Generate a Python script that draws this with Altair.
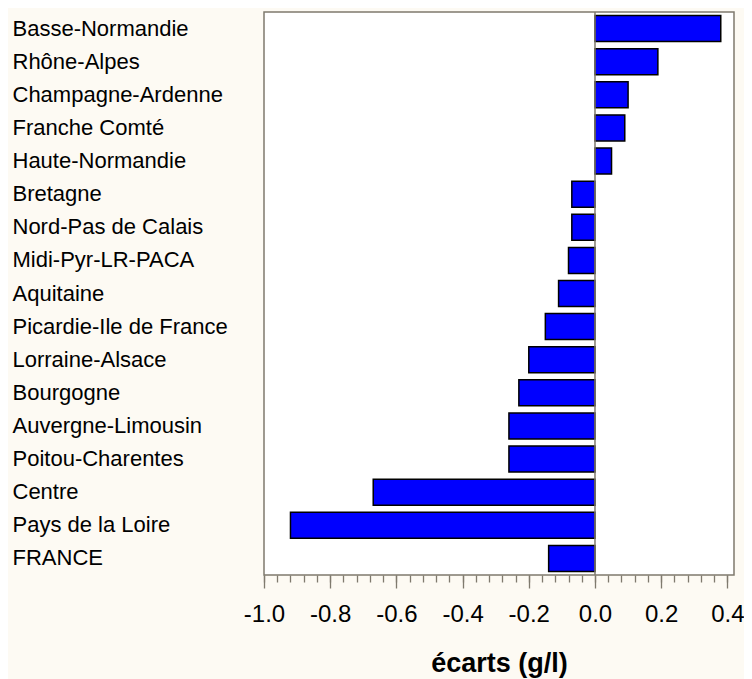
import altair as alt
import pandas as pd

regions = [
    "Basse-Normandie", "Rhône-Alpes", "Champagne-Ardenne", "Franche Comté",
    "Haute-Normandie", "Bretagne", "Nord-Pas de Calais", "Midi-Pyr-LR-PACA",
    "Aquitaine", "Picardie-Ile de France", "Lorraine-Alsace", "Bourgogne",
    "Auvergne-Limousin", "Poitou-Charentes", "Centre", "Pays de la Loire", "FRANCE",
]
ecarts = [0.38, 0.19, 0.10, 0.09, 0.05, -0.07, -0.07, -0.08, -0.11, -0.15,
          -0.20, -0.23, -0.26, -0.26, -0.67, -0.92, -0.14]

major_ticks = [-1.0, -0.8, -0.6, -0.4, -0.2, 0.0, 0.2, 0.4]
minor_ticks = [-1.0, -0.96, -0.92, -0.88, -0.84, -0.8, -0.76, -0.72, -0.68, -0.64,
               -0.6, -0.56, -0.52, -0.48, -0.44, -0.4, -0.36, -0.32, -0.28, -0.24,
               -0.2, -0.16, -0.12, -0.08, -0.04, 0.0, 0.04, 0.08, 0.12, 0.16,
               0.2, 0.24, 0.28, 0.32, 0.36, 0.4]
x_domain = [-1.0, 0.42]

df = pd.DataFrame({"region": regions, "ecart": ecarts})
zero_df = pd.DataFrame({"z": [0.0]})

FONT = "Liberation Sans, Arial, sans-serif"
GRAY = "#7f7a6e"

x_scale = alt.Scale(domain=x_domain, nice=False)
y_scale = alt.Scale(domain=regions, paddingInner=0.215, paddingOuter=0.107)

bars = alt.Chart(df).mark_bar(color="#0000FF", stroke="#000000", strokeWidth=1.5).encode(
    x=alt.X("ecart:Q", scale=x_scale, axis=alt.Axis(
        values=major_ticks,
        labelExpr="(datum.value < -0.0001 ? '-' : '') + format(abs(datum.value), '.1f')",
        title="écarts (g/l)", titleFontSize=27, titleFontWeight="bold", titleFont=FONT,
        titleColor="black", titlePadding=24,
        labelFont=FONT, labelFontSize=24, labelColor="black", labelPadding=14,
        tickSize=13, tickColor=GRAY, tickWidth=1.3, domain=False, grid=False,
        labelFlush=False, labelOverlap=False,
    )),
    y=alt.Y("region:N", scale=y_scale, sort=None, axis=alt.Axis(
        title=None, ticks=False, tickSize=0, domain=False, grid=False,
        labelAlign="left", labelPadding=252, labelLimit=400, labelBaseline="middle",
        labelFont=FONT, labelFontSize=22, labelColor="black",
    )),
)

zero_line = alt.Chart(zero_df).mark_rule(color=GRAY, strokeWidth=1.5).encode(
    x=alt.X("z:Q", scale=x_scale, axis=alt.Axis(
        values=minor_ticks, labels=False, tickSize=7, tickColor=GRAY, tickWidth=1.3,
        domain=False, grid=False, title=None, orient="bottom",
    )),
)

chart = alt.layer(bars, zero_line).resolve_axis(x="independent").properties(
    width=470, height=563,
    padding={"left": 256, "top": 4, "right": 10, "bottom": 104},
    autosize=alt.AutoSizeParams(type="none"),
    background="#FDFAF3",
).configure_view(
    stroke=GRAY, strokeWidth=1.5, fill="white",
)

chart.save("out.html", embed_options={"renderer": "svg", "actions": False})
